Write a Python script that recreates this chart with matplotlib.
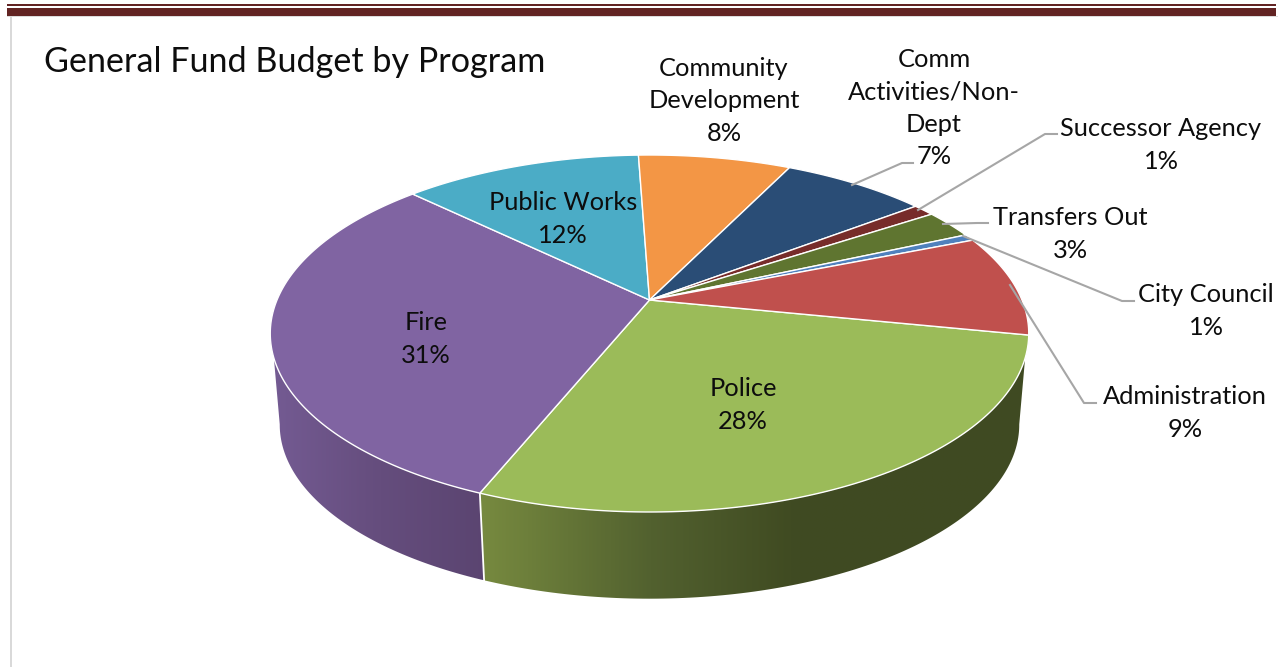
import numpy as np
import matplotlib
matplotlib.use("Agg")
import matplotlib.pyplot as plt
from matplotlib.colors import LinearSegmentedColormap
from matplotlib.patches import Polygon, Rectangle

plt.rcParams['font.family'] = ['Lato', 'DejaVu Sans']

# budget shares, clockwise from the right hand edge of Police
programs = ['Police', 'Fire', 'Public Works', 'Community Development', 'Comm Activities/Non-Dept',
            'Successor Agency', 'Transfers Out', 'City Council', 'Administration']
shares = [28.0, 31.1, 12.2, 7.8, 7.4, 1.1, 2.6, 0.6, 9.2]
face_colors = ['#9BBB59', '#8064A2', '#4BACC6', '#F39645', '#2A4D76',
               '#772C2A', '#5F7530', '#4F81BD', '#C0504D']

# label text broken the way it wraps on the chart
label_lines = {
    'Community Development': 'Community\nDevelopment',
    'Comm Activities/Non-Dept': 'Comm\nActivities/Non-\nDept',
}
label_pos = {
    'Police': (743, 405), 'Fire': (426, 339), 'Public Works': (563, 219),
    'Community Development': (724, 101), 'Comm Activities/Non-Dept': (934, 108),
    'Successor Agency': (1161, 145), 'Transfers Out': (1070, 234),
    'City Council': (1206, 311), 'Administration': (1185, 413),
}
leaders = {
    'Comm Activities/Non-Dept': [(852, 185), (902, 163), (913, 163)],
    'Successor Agency': [(918, 210), (1045, 134), (1057, 134)],
    'Transfers Out': [(943, 224), (977, 223), (988, 223)],
    'City Council': [(963, 236), (1122, 301), (1134, 301)],
    'Administration': [(1010, 285), (1084, 403), (1096, 403)],
}

# perspective of the disc, in pixels
CX, CY = 649.5, 300
RX, RY = 372.5, 172.2
PERSP = 0.1877
START = -11.3
BOTTOM_SCALE, BOTTOM_Y = 0.975, 392


def top_rim(theta):
    t = np.radians(theta)
    w = 1 + PERSP * np.sin(t)
    return CX + RX * np.cos(t) / w, CY - RY * np.sin(t) / w


def bottom_rim(theta):
    x, y = top_rim(theta)
    return CX + BOTTOM_SCALE * (x - CX), BOTTOM_Y + BOTTOM_SCALE * (y - CY)


def side_wall(ax, t0, t1, t_low, stops):
    # t0..t1 along the upper edge, back along the lower edge to t_low
    ux, uy = top_rim(np.linspace(t0, t1, 120))
    lx, ly = bottom_rim(np.linspace(t1, t_low, 120))
    pts = np.column_stack([np.r_[ux, lx], np.r_[uy, ly]])
    x0, x1 = pts[:, 0].min(), pts[:, 0].max()
    span = stops[-1][0] - stops[0][0]
    cmap = LinearSegmentedColormap.from_list('wall', [((x - stops[0][0]) / span, c) for x, c in stops])
    grad = cmap(np.linspace((x0 - stops[0][0]) / span, (x1 - stops[0][0]) / span, 400))[None, :, :]
    im = ax.imshow(grad, extent=[x0, x1, pts[:, 1].max(), pts[:, 1].min()], aspect='auto', zorder=2, interpolation='bilinear')
    clip = Polygon(pts, closed=True, transform=ax.transData, facecolor='none', edgecolor='none')
    ax.add_patch(clip)
    im.set_clip_path(clip)


fig = plt.figure(figsize=(12.78, 6.67), dpi=100)
ax = fig.add_axes([0, 0, 1, 1])

# page furniture behind the chart
ax.add_patch(Rectangle((7, 4), 1269, 2, color='#622423', lw=0))
ax.add_patch(Rectangle((7, 8), 1269, 8, color='#622423', lw=0))
ax.add_patch(Rectangle((7, 16), 1271, 1.2, color='#dcdcdc', lw=0))
ax.add_patch(Rectangle((10, 17), 2, 650, color='#d9d9d9', lw=0))

# wedge boundaries, going clockwise
sweep = np.array(shares) / sum(shares) * 360
bounds = START - np.r_[0, np.cumsum(sweep)]
split = bounds[1]

side_wall(ax, -18.5, split, -10.7, [(484, '#76893F'), (650, '#52612F'), (790, '#404B22'), (1030, '#3F4A22')])
side_wall(ax, -161.5, split, -169.3, [(270, '#745B93'), (380, '#654D7D'), (490, '#5A4470')])
bx, by = top_rim(split)
lx, ly = bottom_rim(split)
ax.plot([bx, lx], [by, ly], color='white', lw=1.3, zorder=3)

# top face of the pie
for i, name in enumerate(programs):
    xs, ys = top_rim(np.linspace(bounds[i], bounds[i + 1], 150))
    ax.fill(np.r_[CX, xs], np.r_[CY, ys], facecolor=face_colors[i], edgecolor='white', lw=1.0, zorder=4, joinstyle='round')

for name, pts in leaders.items():
    ax.plot(*zip(*pts), color='#a6a6a6', lw=1.5, zorder=5)

for name, share in zip(programs, shares):
    text = label_lines.get(name, name) + f'\n{share:.0f}%'
    x, y = label_pos[name]
    ax.text(x, y, text, ha='center', va='center', fontsize=18.3, color='#0d0d0d', linespacing=1.49, zorder=6)

ax.text(44, 62, 'General Fund Budget by Program', ha='left', va='center', fontsize=24.6, color='#0d0d0d', zorder=6)

ax.set_xlim(0, 1278)
ax.set_ylim(667, 0)
ax.axis('off')
fig.savefig('out.png', dpi=100)
